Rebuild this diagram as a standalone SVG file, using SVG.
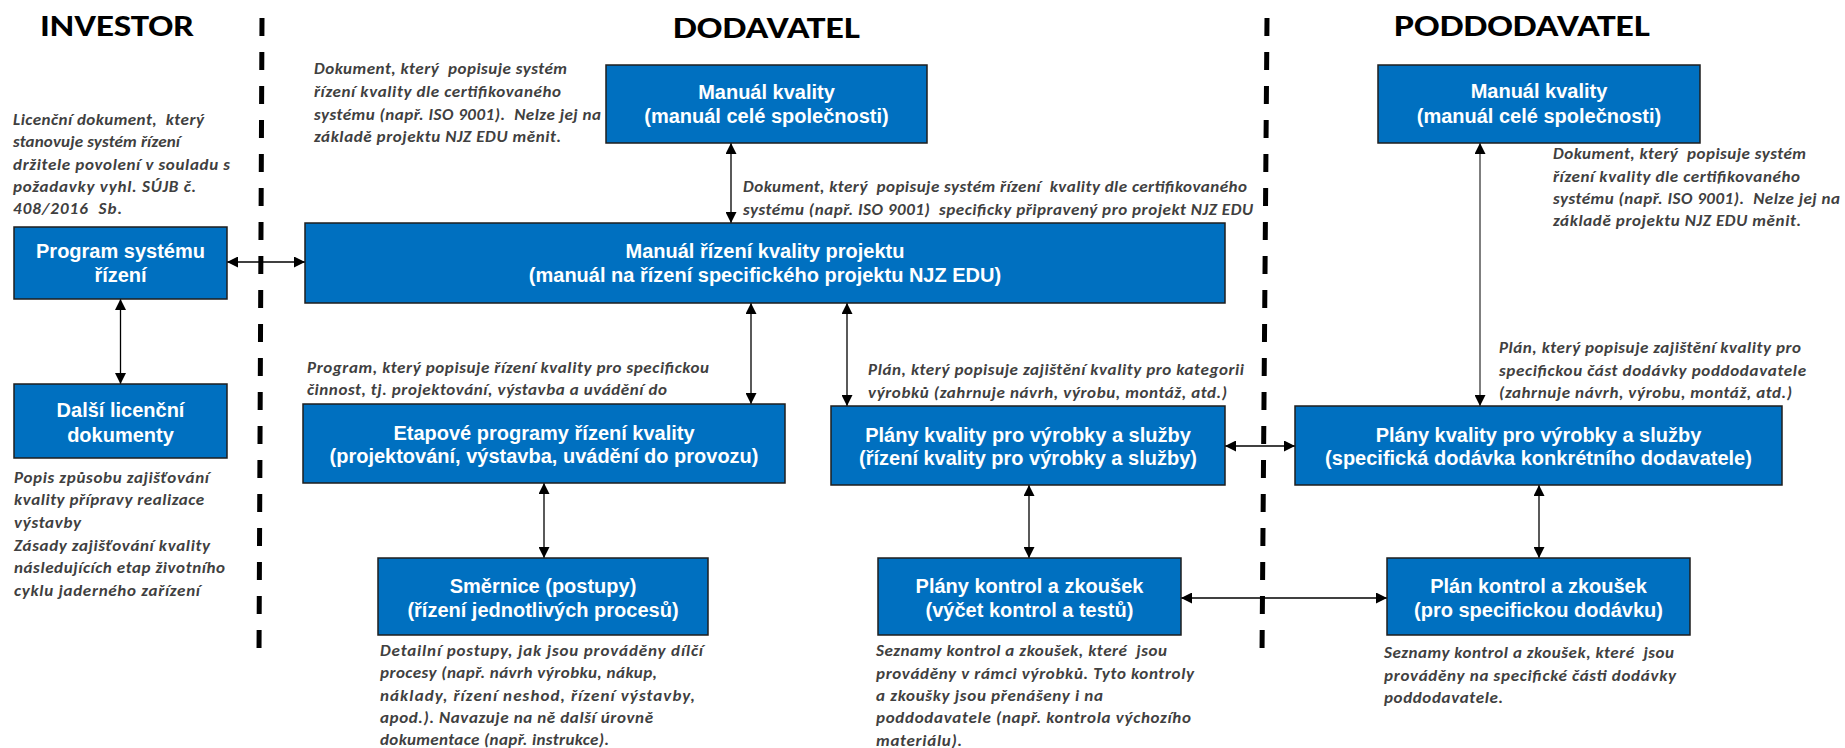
<svg xmlns="http://www.w3.org/2000/svg" width="1845" height="748" viewBox="0 0 1845 748">
<style>
.box{fill:#0070C0;stroke:#1e1e1e;stroke-width:1.5}
.bt{font-family:"Liberation Sans",Arial,sans-serif;font-weight:bold;font-size:20px;fill:#fff;text-anchor:middle}
.note{font-family:Carlito,Lato,"Liberation Sans",sans-serif;font-style:italic;font-weight:bold;font-size:17px;fill:#404040}
.hdr{font-family:Carlito,Lato,"Liberation Sans",sans-serif;font-weight:bold;font-size:31px;fill:#000}
.dash{stroke:#000;stroke-width:5;stroke-dasharray:18 16;fill:none}
.conn{stroke:#000;stroke-width:1.3;fill:none;marker-start:url(#ah);marker-end:url(#ah)}
.conng{stroke:#555;stroke-width:1.5;fill:none;marker-start:url(#ah);marker-end:url(#ah)}
</style>
<defs>
<marker id="ah" viewBox="0 0 10 10" refX="10" refY="5" markerWidth="11" markerHeight="11" markerUnits="userSpaceOnUse" orient="auto-start-reverse"><path d="M0,0 L10,5 L0,10 z" fill="#000"/></marker>
</defs>
<rect width="1845" height="748" fill="#fff"/>
<g id="headers">
<text class="hdr" x="40" y="36" textLength="154" lengthAdjust="spacingAndGlyphs">INVESTOR</text>
<text class="hdr" x="673" y="38" textLength="187" lengthAdjust="spacingAndGlyphs">DODAVATEL</text>
<text class="hdr" x="1394" y="36" textLength="256" lengthAdjust="spacingAndGlyphs">PODDODAVATEL</text>
</g>
<g id="dividers">
<line class="dash" x1="262" y1="18" x2="259" y2="655"/>
<line class="dash" x1="1267" y1="18" x2="1262" y2="655"/>
</g>
<g id="connectors">
<line class="conn" x1="227" y1="262" x2="305" y2="262"/>
<line class="conn" x1="120.5" y1="299" x2="120.5" y2="384"/>
<line class="conn" x1="731" y1="143" x2="731" y2="223"/>
<line class="conn" x1="751" y1="303" x2="751" y2="404"/>
<line class="conn" x1="847" y1="303" x2="847" y2="406"/>
<line class="conn" x1="544" y1="483" x2="544" y2="558"/>
<line class="conn" x1="1029" y1="485" x2="1029" y2="558"/>
<line class="conn" x1="1225" y1="446" x2="1295" y2="446"/>
<line class="conn" x1="1181" y1="598" x2="1387" y2="598"/>
<line class="conng" x1="1480" y1="143" x2="1480" y2="406"/>
<line class="conn" x1="1539" y1="485" x2="1539" y2="558"/>
</g>
<g id="n-program">
<rect class="box" x="14" y="227" width="213" height="72"/>
<text class="bt" x="120.5" y="258">Program systému</text>
<text class="bt" x="120.5" y="282">řízení</text>
</g>
<g id="n-dalsi">
<rect class="box" x="14" y="384" width="213" height="74"/>
<text class="bt" x="120.5" y="417">Další licenční</text>
<text class="bt" x="120.5" y="442">dokumenty</text>
</g>
<g id="n-manual-d">
<rect class="box" x="606" y="65" width="321" height="78"/>
<text class="bt" x="766.5" y="99">Manuál kvality</text>
<text class="bt" x="766.5" y="123">(manuál celé společnosti)</text>
</g>
<g id="n-manual-projekt">
<rect class="box" x="305" y="223" width="920" height="80"/>
<text class="bt" x="765" y="258">Manuál řízení kvality projektu</text>
<text class="bt" x="765" y="282">(manuál na řízení specifického projektu NJZ EDU)</text>
</g>
<g id="n-etapove">
<rect class="box" x="303" y="404" width="482" height="79"/>
<text class="bt" x="544" y="440">Etapové programy řízení kvality</text>
<text class="bt" x="544" y="463">(projektování, výstavba, uvádění do provozu)</text>
</g>
<g id="n-smernice">
<rect class="box" x="378" y="558" width="330" height="77"/>
<text class="bt" x="543" y="593">Směrnice (postupy)</text>
<text class="bt" x="543" y="617">(řízení jednotlivých procesů)</text>
</g>
<g id="n-plany-kvality-d">
<rect class="box" x="831" y="406" width="394" height="79"/>
<text class="bt" x="1028" y="442">Plány kvality pro výrobky a služby</text>
<text class="bt" x="1028" y="465">(řízení kvality pro výrobky a služby)</text>
</g>
<g id="n-plany-kontrol-d">
<rect class="box" x="878" y="558" width="303" height="77"/>
<text class="bt" x="1029.5" y="593">Plány kontrol a zkoušek</text>
<text class="bt" x="1029.5" y="617">(výčet kontrol a testů)</text>
</g>
<g id="n-manual-p">
<rect class="box" x="1378" y="65" width="322" height="78"/>
<text class="bt" x="1539" y="98">Manuál kvality</text>
<text class="bt" x="1539" y="123">(manuál celé společnosti)</text>
</g>
<g id="n-plany-kvality-p">
<rect class="box" x="1295" y="406" width="487" height="79"/>
<text class="bt" x="1538.5" y="442">Plány kvality pro výrobky a služby</text>
<text class="bt" x="1538.5" y="465">(specifická dodávka konkrétního dodavatele)</text>
</g>
<g id="n-plan-kontrol-p">
<rect class="box" x="1387" y="558" width="303" height="77"/>
<text class="bt" x="1538.5" y="593">Plán kontrol a zkoušek</text>
<text class="bt" x="1538.5" y="617">(pro specifickou dodávku)</text>
</g>
<g id="notes">
<text class="note" x="13" y="125" textLength="191">Licenční dokument,&#160; který</text>
<text class="note" x="13" y="147" textLength="167">stanovuje systém řízení</text>
<text class="note" x="13" y="170" textLength="217">držitele povolení v souladu s</text>
<text class="note" x="13" y="192" textLength="183">požadavky vyhl. SÚJB č.</text>
<text class="note" x="13" y="214" textLength="109">408/2016&#160; Sb.</text>

<text class="note" x="14" y="483" textLength="195">Popis způsobu zajišťování</text>
<text class="note" x="14" y="505" textLength="190">kvality přípravy realizace</text>
<text class="note" x="14" y="528" textLength="67">výstavby</text>
<text class="note" x="14" y="551" textLength="196">Zásady zajišťování kvality</text>
<text class="note" x="14" y="573" textLength="211">následujících etap životního</text>
<text class="note" x="14" y="596" textLength="186">cyklu jaderného zařízení</text>

<text class="note" x="314" y="74" textLength="253">Dokument, který&#160; popisuje systém</text>
<text class="note" x="314" y="97" textLength="247">řízení kvality dle certifikovaného</text>
<text class="note" x="314" y="120" textLength="287">systému (např. ISO 9001).&#160; Nelze jej na</text>
<text class="note" x="314" y="142" textLength="247">základě projektu NJZ EDU měnit.</text>

<text class="note" x="743" y="192" textLength="504">Dokument, který&#160; popisuje systém řízení&#160; kvality dle certifikovaného</text>
<text class="note" x="743" y="215" textLength="510">systému (např. ISO 9001)&#160; specificky připravený pro projekt NJZ EDU</text>

<text class="note" x="1553" y="159" textLength="253">Dokument, který&#160; popisuje systém</text>
<text class="note" x="1553" y="182" textLength="247">řízení kvality dle certifikovaného</text>
<text class="note" x="1553" y="204" textLength="287">systému (např. ISO 9001).&#160; Nelze jej na</text>
<text class="note" x="1553" y="226" textLength="248">základě projektu NJZ EDU měnit.</text>

<text class="note" x="307" y="373" textLength="402">Program, který popisuje řízení kvality pro specifickou</text>
<text class="note" x="307" y="395" textLength="360">činnost, tj. projektování, výstavba a uvádění do</text>

<text class="note" x="868" y="375" textLength="376">Plán, který popisuje zajištění kvality pro kategorii</text>
<text class="note" x="868" y="398" textLength="359">výrobků (zahrnuje návrh, výrobu, montáž, atd.)</text>

<text class="note" x="1499" y="353" textLength="302">Plán, který popisuje zajištění kvality pro</text>
<text class="note" x="1499" y="376" textLength="307">specifickou část dodávky poddodavatele</text>
<text class="note" x="1499" y="398" textLength="293">(zahrnuje návrh, výrobu, montáž, atd.)</text>

<text class="note" x="380" y="656" textLength="323">Detailní postupy, jak jsou prováděny dílčí</text>
<text class="note" x="380" y="678" textLength="277">procesy (např. návrh výrobku, nákup,</text>
<text class="note" x="380" y="701" textLength="315">náklady, řízení neshod, řízení výstavby,</text>
<text class="note" x="380" y="723" textLength="273">apod.). Navazuje na ně další úrovně</text>
<text class="note" x="380" y="745" textLength="229">dokumentace (např. instrukce).</text>

<text class="note" x="876" y="656" textLength="291">Seznamy kontrol a zkoušek, které&#160; jsou</text>
<text class="note" x="876" y="679" textLength="318">prováděny v rámci výrobků. Tyto kontroly</text>
<text class="note" x="876" y="701" textLength="227">a zkoušky jsou přenášeny i na</text>
<text class="note" x="876" y="723" textLength="315">poddodavatele (např. kontrola výchozího</text>
<text class="note" x="876" y="746" textLength="86">materiálu).</text>

<text class="note" x="1384" y="658" textLength="290">Seznamy kontrol a zkoušek, které&#160; jsou</text>
<text class="note" x="1384" y="681" textLength="292">prováděny na specifické části dodávky</text>
<text class="note" x="1384" y="703" textLength="119">poddodavatele.</text>
</g>
</svg>
